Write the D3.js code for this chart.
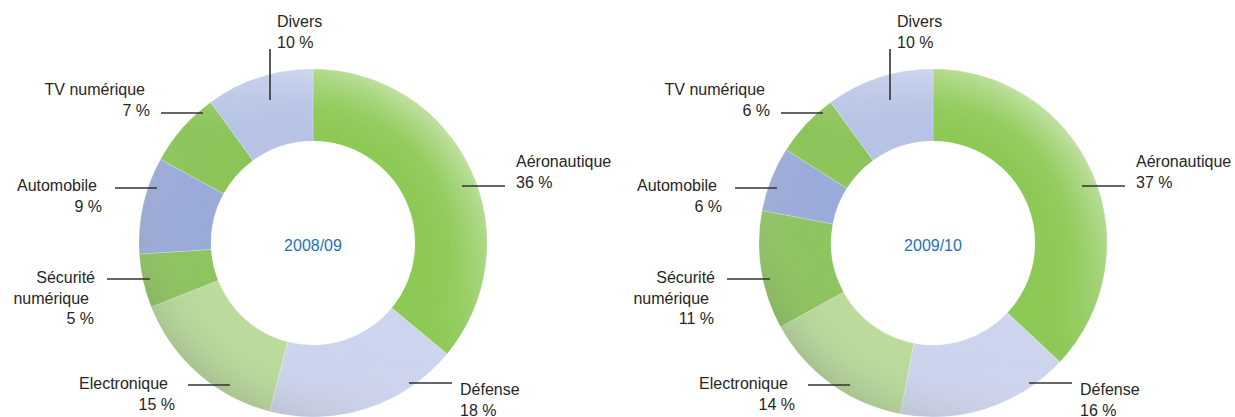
<!DOCTYPE html>
<html>
<head>
<meta charset="utf-8">
<script src="https://cdn.jsdelivr.net/npm/d3@7/dist/d3.min.js"></script>
<style>
  html, body { margin: 0; padding: 0; background: #ffffff; }
  svg { display: block; }
  text { font-family: "Liberation Sans", Arial, sans-serif; }
</style>
</head>
<body>
<svg id="chart" width="1235" height="417"></svg>
<script>
// Sector breakdown, clockwise from 12 o'clock
const categories = ["Aéronautique", "Défense", "Electronique", "Sécurité numérique", "Automobile", "TV numérique", "Divers"];
const labelLines = [["Aéronautique"], ["Défense"], ["Electronique"], ["Sécurité", "numérique"], ["Automobile"], ["TV numérique"], ["Divers"]];
const values2008 = [36, 18, 15, 5, 9, 7, 10];
const values2009 = [37, 16, 14, 11, 6, 6, 10];
const periods = ["2008/09", "2009/10"];

const sliceColors = ["#8dc955", "#cdd4ee", "#bcdb9d", "#8ec55f", "#9babd9", "#8dc45a", "#b6c3e5"];

// Callout layout relative to each donut centre:
// leader line [x1, y1, x2, y2], text anchor, text x for each line, first baseline
const callouts = [
  { line: [149, -57, 192, -57], anchor: "start", xs: [203, 203], y: -76 },
  { line: [96, 140, 139, 140], anchor: "start", xs: [147, 147], y: 152 },
  { line: [-125, 142, -83, 142], anchor: "end", xs: [-145, -138], y: 146 },
  { line: [-206, 36, -163, 36], anchor: "end", xs: [-218, -224, -219], y: 40 },
  { line: [-198, -55, -156, -55], anchor: "end", xs: [-216, -211], y: -52 },
  { line: [-152, -130, -110, -130], anchor: "end", xs: [-168, -163], y: -148 },
  { line: [-43, -194, -43, -143], anchor: "start", xs: [-36, -36], y: -216 }
];

const centres = [[313, 243], [933, 243]];
const datasets = [values2008, values2009];
const outerR = 174, innerR = 102;
const lineStep = 20.5;

const svg = d3.select("#chart");
const defs = svg.append("defs");

// Lighting: brighter towards the upper right, shaded towards the lower left
const light = defs.append("linearGradient").attr("id", "light")
  .attr("x1", "0.9").attr("y1", "0.05").attr("x2", "0.1").attr("y2", "0.95");
light.append("stop").attr("offset", "0").attr("stop-color", "#ffffff").attr("stop-opacity", 0.55);
light.append("stop").attr("offset", "0.5").attr("stop-color", "#ffffff").attr("stop-opacity", 0.0);
light.append("stop").attr("offset", "1").attr("stop-color", "#4a5a48").attr("stop-opacity", 0.3);

// Ring profile: effect grows towards the outer rim
const rim = defs.append("radialGradient").attr("id", "rim")
  .attr("cx", "0.5").attr("cy", "0.5").attr("r", "0.5");
rim.append("stop").attr("offset", innerR / outerR).attr("stop-color", "#000");
rim.append("stop").attr("offset", 0.78).attr("stop-color", "#333");
rim.append("stop").attr("offset", 1).attr("stop-color", "#fff");

const soft = defs.append("filter").attr("id", "soft")
  .attr("x", "-5%").attr("y", "-5%").attr("width", "110%").attr("height", "110%");
soft.append("feGaussianBlur").attr("stdDeviation", 0.7);

const pie = d3.pie().sort(null).value(d => d);
const arc = d3.arc().innerRadius(innerR).outerRadius(outerR);
const ring = d3.arc().innerRadius(innerR).outerRadius(outerR).startAngle(0).endAngle(2 * Math.PI);

datasets.forEach((values, i) => {
  const [cx, cy] = centres[i];
  const g = svg.append("g").attr("transform", `translate(${cx},${cy})`);

  const mask = defs.append("mask").attr("id", "rimMask" + i)
    .attr("maskUnits", "userSpaceOnUse")
    .attr("x", -outerR).attr("y", -outerR).attr("width", 2 * outerR).attr("height", 2 * outerR);
  mask.append("circle").attr("r", outerR).attr("fill", "url(#rim)");

  const donut = g.append("g").attr("filter", "url(#soft)");
  donut.selectAll("path.slice")
    .data(pie(values))
    .join("path")
    .attr("class", "slice")
    .attr("d", arc)
    .attr("fill", (d, k) => sliceColors[k])
    .attr("stroke", "rgba(255,255,255,0.3)")
    .attr("stroke-width", 0.7);

  donut.append("path")
    .attr("d", ring())
    .attr("fill", "url(#light)")
    .attr("mask", `url(#rimMask${i})`);

  g.append("text")
    .attr("x", 0).attr("y", 8)
    .attr("text-anchor", "middle")
    .attr("font-size", 16)
    .attr("fill", "#1f6fbd")
    .text(periods[i]);

  categories.forEach((cat, k) => {
    const c = callouts[k];
    g.append("line")
      .attr("x1", c.line[0]).attr("y1", c.line[1])
      .attr("x2", c.line[2]).attr("y2", c.line[3])
      .attr("stroke", "#333333").attr("stroke-width", 1.6);
    const lines = labelLines[k].concat([values[k] + "\u00a0%"]);
    lines.forEach((t, j) => {
      g.append("text")
        .attr("x", c.xs[j])
        .attr("y", c.y + j * lineStep)
        .attr("text-anchor", c.anchor)
        .attr("font-size", 16)
        .attr("fill", "#262626")
        .text(t);
    });
  });
});
</script>
</body>
</html>
